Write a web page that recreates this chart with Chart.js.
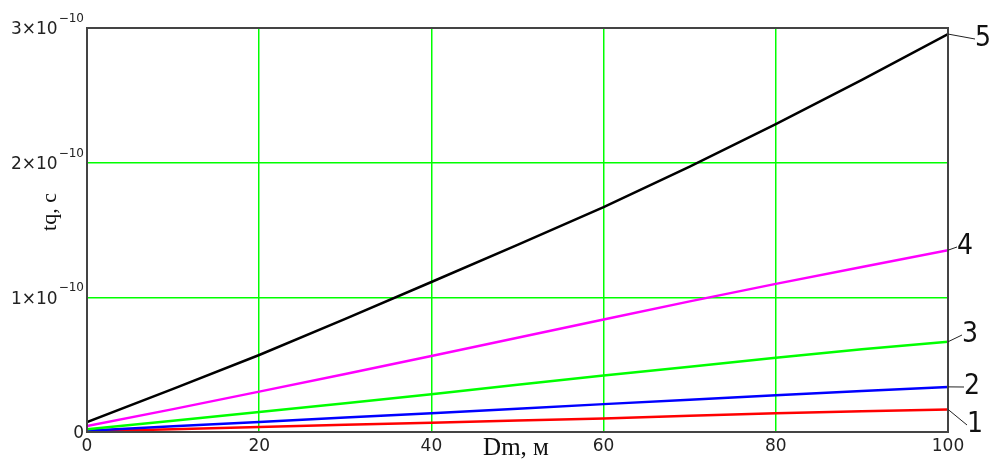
<!DOCTYPE html>
<html>
<head>
<meta charset="utf-8">
<script src="https://cdn.jsdelivr.net/npm/chart.js@4.4.1/dist/chart.umd.min.js"></script>
<style>
  html, body { margin: 0; padding: 0; background: #fff; }
  #wrap { width: 991px; height: 459px; }
</style>
</head>
<body>
<div id="wrap"><canvas id="tqChart" width="991" height="459"></canvas></div>
<script>
// Dm, m
const distances = [0, 10, 20, 30, 40, 50, 60, 70, 80, 90, 100];

// tq, s  (curves 1..5)
const curve1 = [0.5e-12, 2.1e-12, 3.7e-12, 5.3e-12, 6.9e-12, 8.5e-12, 10.1e-12, 12.0e-12, 14.0e-12, 15.5e-12, 16.8e-12];
const curve2 = [1.0e-12, 4.2e-12, 7.4e-12, 10.7e-12, 14.0e-12, 17.3e-12, 20.7e-12, 24.0e-12, 27.3e-12, 30.5e-12, 33.5e-12];
const curve3 = [2.0e-12, 8.4e-12, 14.8e-12, 21.4e-12, 28.1e-12, 35.0e-12, 41.9e-12, 48.5e-12, 55.2e-12, 61.5e-12, 67.0e-12];
const curve4 = [4.5e-12, 17.0e-12, 30.0e-12, 43.0e-12, 56.5e-12, 70.0e-12, 83.5e-12, 97.0e-12, 110.0e-12, 122.5e-12, 135.0e-12];
const curve5 = [7.4e-12, 32.0e-12, 57.2e-12, 84.0e-12, 111.4e-12, 139.0e-12, 167.0e-12, 197.0e-12, 228.7e-12, 261.5e-12, 295.5e-12];

const curveNames = ['1', '2', '3', '4', '5'];
const curveColors = ['#ff0000', '#0000ff', '#00ff00', '#ff00ff', '#000000'];

// y tick labels: mantissa and exponent
const yTickMantissa = ['0', '1×10', '2×10', '3×10'];
const yTickExponent = ['', '−10', '−10', '−10'];

const xTitle = 'Dm, м';
const yTitle = 'tq, c';

// where the curve numbers sit, relative to the right edge of the plot
const labelSpots = [
    { dx: 27, dy: 425 },
    { dx: 24, dy: 387 },
    { dx: 22, dy: 335 },
    { dx: 17, dy: 247 },
    { dx: 35, dy: 39 }
];

const mkPoints = (arr) => distances.map((d, i) => ({ x: d, y: arr[i] }));

const curves = [curve1, curve2, curve3, curve4, curve5];

const dataTq = {
    datasets: curves.map((c, i) => ({
        label: curveNames[i],
        data: mkPoints(c),
        borderColor: curveColors[i],
        backgroundColor: curveColors[i],
        borderWidth: 2.5,
        pointRadius: 0,
        tension: 0,
        order: 5 - i
    }))
};

const decorPlugin = {
    id: 'decor',
    afterDraw(chart) {
        const ctx = chart.ctx;
        const a = chart.chartArea;
        const ys = chart.scales.y;
        ctx.save();

        // frame
        ctx.strokeStyle = '#444';
        ctx.lineWidth = 2;
        ctx.strokeRect(a.left, a.top, a.right - a.left, a.bottom - a.top);

        // y tick labels
        ctx.fillStyle = '#222';
        ys.ticks.forEach((t, i) => {
            const py = ys.getPixelForValue(t.value);
            const right = 84;
            ctx.textBaseline = 'middle';
            ctx.textAlign = 'right';
            ctx.font = '12px "DejaVu Sans"';
            const ew = ctx.measureText(yTickExponent[i]).width;
            if (yTickExponent[i]) ctx.fillText(yTickExponent[i], right, py - 9);
            ctx.font = '17px "DejaVu Sans"';
            ctx.fillText(yTickMantissa[i], right - ew - (ew ? 1 : 0), py + 2);
        });

        // axis titles
        ctx.font = '22px "Liberation Serif"';
        ctx.fillStyle = '#111';
        ctx.textAlign = 'center';
        ctx.textBaseline = 'middle';
        ctx.save();
        ctx.translate(50, 212);
        ctx.rotate(-Math.PI / 2);
        ctx.fillText(yTitle, 0, 0);
        ctx.restore();
        ctx.font = '25px "Liberation Serif"';
        ctx.textBaseline = 'alphabetic';
        ctx.fillText(xTitle, 516, 455);

        // curve numbers with leader lines
        chart.data.datasets.forEach((ds, i) => {
            const meta = chart.getDatasetMeta(i);
            const last = meta.data[meta.data.length - 1];
            const spot = labelSpots[i];
            const lx = a.right + spot.dx;
            const ly = spot.dy;
            ctx.strokeStyle = '#222';
            ctx.lineWidth = 1;
            ctx.beginPath();
            ctx.moveTo(a.right, last.y);
            ctx.lineTo(lx - 8, ly);
            ctx.stroke();
            ctx.fillStyle = '#111';
            ctx.font = '28px "DejaVu Sans Condensed", "DejaVu Sans"';
            ctx.textAlign = 'center';
            ctx.textBaseline = 'middle';
            ctx.fillText(ds.label, lx, ly);
        });

        ctx.restore();
    }
};

const configTq = {
    type: 'line',
    data: dataTq,
    options: {
        responsive: false,
        animation: false,
        layout: {
            padding: { left: 87, right: 43, top: 28, bottom: 0 }
        },
        plugins: {
            legend: { display: false },
            tooltip: { enabled: false }
        },
        scales: {
            x: {
                type: 'linear',
                min: 0,
                max: 100,
                border: { display: false },
                grid: {
                    drawTicks: false,
                    lineWidth: 1.5,
                    color: (c) => (c.tick && (c.tick.value === 0 || c.tick.value === 100)) ? 'rgba(0,0,0,0)' : '#00ff00'
                },
                ticks: {
                    stepSize: 20,
                    padding: 4,
                    maxRotation: 0,
                    color: '#222',
                    font: { family: 'DejaVu Sans', size: 17 }
                },
                afterFit: (s) => { s.height = 27; }
            },
            y: {
                type: 'linear',
                min: 0,
                max: 3e-10,
                border: { display: false },
                grid: {
                    drawTicks: false,
                    lineWidth: 1.5,
                    color: (c) => (c.tick && (c.tick.value === 0 || Math.abs(c.tick.value - 3e-10) < 1e-14)) ? 'rgba(0,0,0,0)' : '#00ff00'
                },
                ticks: {
                    stepSize: 1e-10,
                    display: false
                },
                afterFit: (s) => { s.width = 0; }
            }
        }
    },
    plugins: [decorPlugin]
};

const tqChart = new Chart(
    document.getElementById('tqChart'),
    configTq
);
</script>
</body>
</html>
